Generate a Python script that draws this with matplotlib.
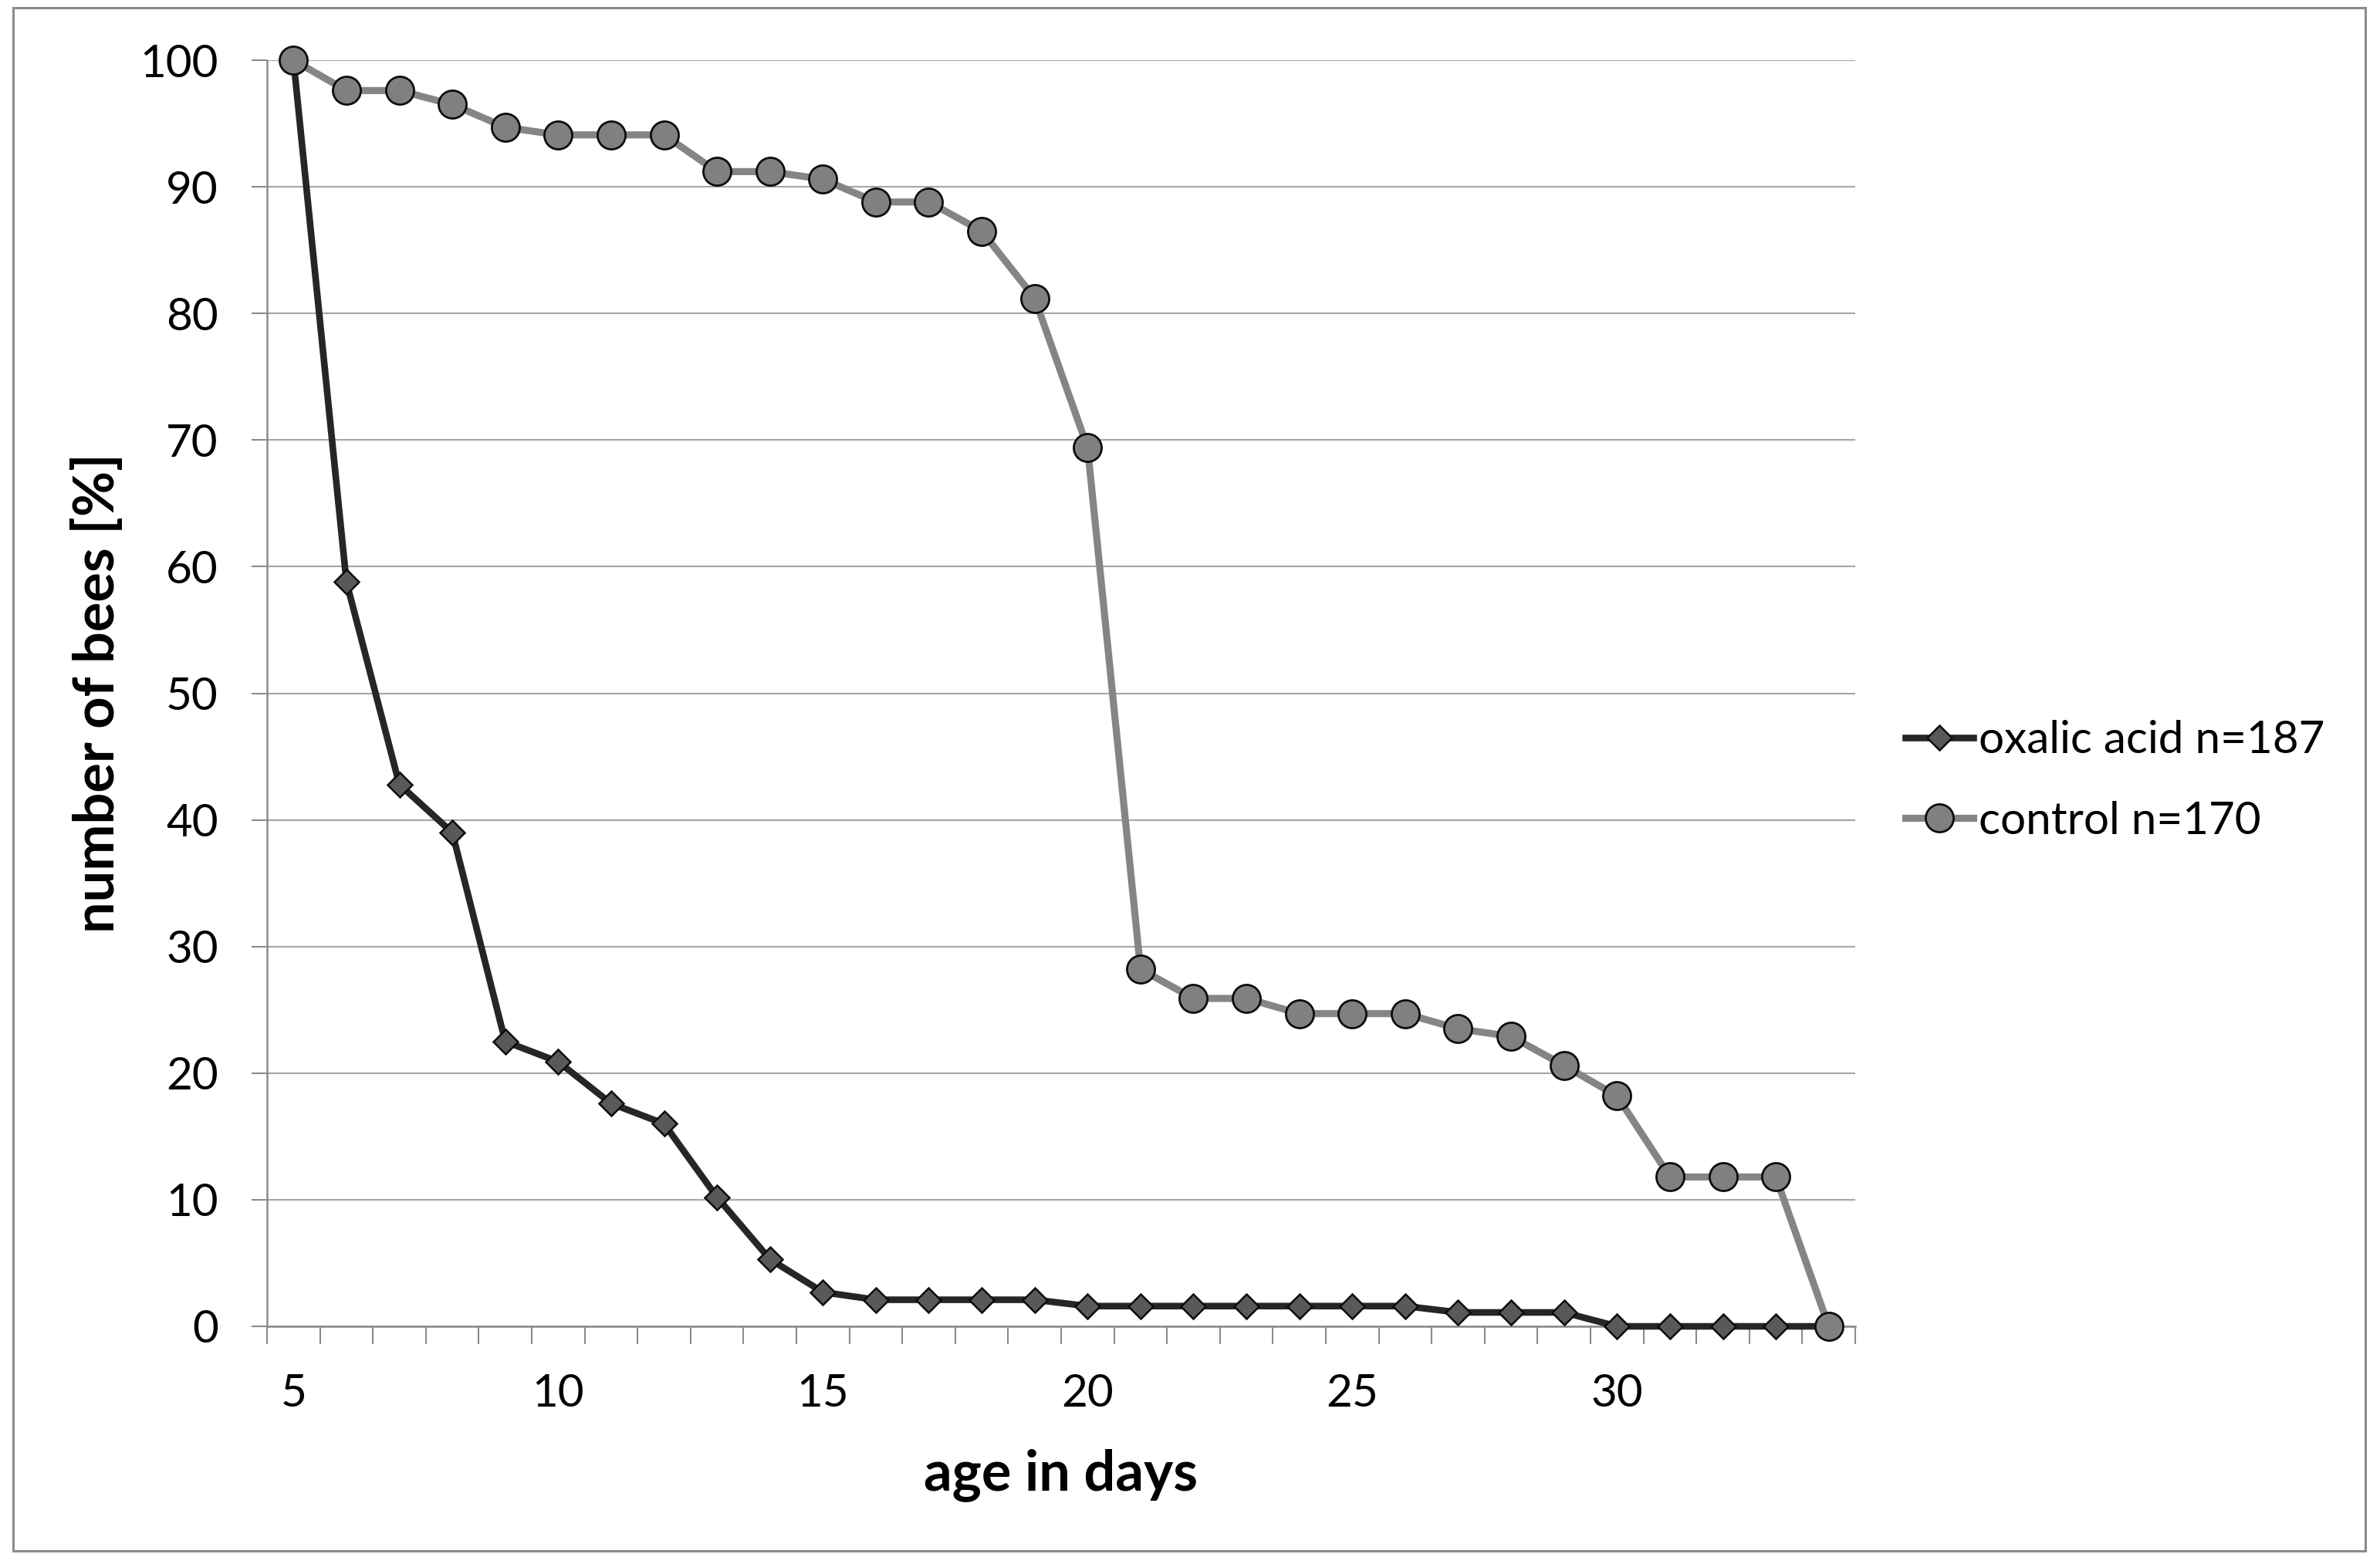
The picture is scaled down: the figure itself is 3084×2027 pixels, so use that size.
import numpy as np
import matplotlib
matplotlib.use('Agg')
import matplotlib.pyplot as plt
from matplotlib.patches import Rectangle
from matplotlib.ticker import MultipleLocator, FixedLocator

# survival of worker bees, percent still alive by age
age_days = list(range(5, 35))
oxalic_acid = [100, 58.8, 42.8, 39.0, 22.5, 20.9, 17.6, 16.0, 10.2, 5.3,
               2.7, 2.1, 2.1, 2.1, 2.1, 1.6, 1.6, 1.6, 1.6, 1.6,
               1.6, 1.6, 1.1, 1.1, 1.1, 0, 0, 0, 0, 0]
control = [100, 97.6, 97.6, 96.5, 94.7, 94.1, 94.1, 94.1, 91.2, 91.2,
           90.6, 88.8, 88.8, 86.5, 81.2, 69.4, 28.2, 25.9, 25.9, 24.7,
           24.7, 24.7, 23.5, 22.9, 20.6, 18.2, 11.8, 11.8, 11.8, 0]
series_labels = ['oxalic acid n=187', 'control n=170']
x_labels = [5, 10, 15, 20, 25, 30]
y_ticks = list(range(0, 101, 10))

plt.rcParams['font.family'] = ['Lato', 'DejaVu Sans']

W, H = 3084, 2027
fig = plt.figure(figsize=(W / 100, H / 100), dpi=100)
ax = fig.add_axes([346 / W, 1 - 1719 / H, (2404 - 346) / W, (1719 - 78) / H])

grid_col = '#a6a6a6'
axis_col = '#8c8c8c'

ax.plot(age_days, oxalic_acid, '-', color='#262626', linewidth=6.2,
        marker='D', markersize=16.5, markerfacecolor='#595959',
        markeredgecolor='#0d0d0d', markeredgewidth=1.8,
        label=series_labels[0], clip_on=False, zorder=3)
ax.plot(age_days, control, '-', color='#858585', linewidth=6.6,
        marker='o', markersize=26, markerfacecolor='#808080',
        markeredgecolor='#0d0d0d', markeredgewidth=2.0,
        label=series_labels[1], clip_on=False, zorder=4)

ax.set_xlim(4.5, 34.5)
ax.set_ylim(0, 100)

ax.xaxis.set_major_locator(FixedLocator(x_labels))
ax.xaxis.set_minor_locator(MultipleLocator(1, offset=0.5))
ax.set_yticks(y_ticks)

ax.tick_params(axis='x', which='major', length=0, pad=44, labelsize=42)
ax.tick_params(axis='x', which='minor', length=16.5, width=1.5,
               color=axis_col, direction='out')
ax.tick_params(axis='y', which='major', length=14.5, width=1.5,
               color=axis_col, direction='out', pad=31, labelsize=42)

ax.grid(axis='y', color=grid_col, linewidth=1.5, zorder=0)
ax.set_axisbelow(True)

for side in ['top', 'right']:
    ax.spines[side].set_visible(False)
for side in ['left', 'bottom']:
    ax.spines[side].set_color(axis_col)
    ax.spines[side].set_linewidth(1.8)

ax.set_xlabel('age in days', fontsize=52, fontweight='bold')
ax.xaxis.set_label_coords(0.5, (1719 - 1912) / (1719 - 78))
ax.xaxis.label.set_va('center')
ax.set_ylabel('number of bees [%]', fontsize=52, fontweight='bold')
ax.yaxis.set_label_coords((127 - 346) / (2404 - 346), 0.5)
ax.yaxis.label.set_va('center')

ax.legend(loc='center left', bbox_to_anchor=(2469 / W, 1 - 1012 / H),
          bbox_transform=fig.transFigure, frameon=False, fontsize=42,
          borderpad=0, borderaxespad=0, handlelength=1.5,
          handletextpad=0.12, labelspacing=0.88, numpoints=1)

# thin gray border around whole chart
fig.patches.append(Rectangle((17 / W, 1 - 2010 / H), (3065 - 17) / W,
                             (2010 - 10) / H, transform=fig.transFigure,
                             fill=False, edgecolor='#8c8c8c', linewidth=2.2))

fig.savefig('out.png', dpi=100)
